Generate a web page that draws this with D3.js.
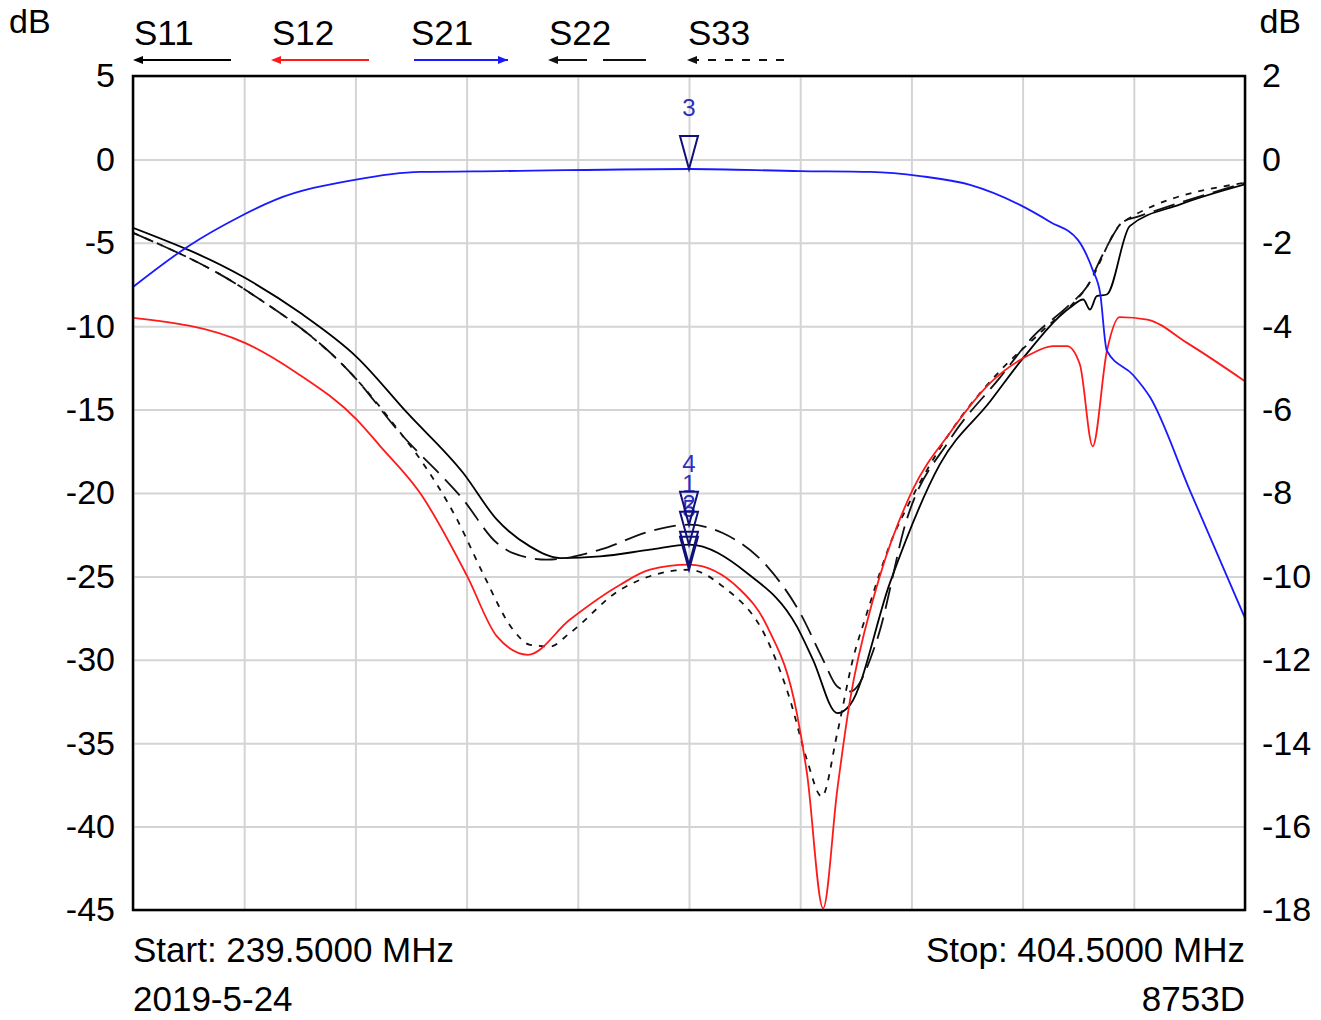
<!DOCTYPE html>
<html>
<head>
<meta charset="utf-8">
<script src="https://cdn.jsdelivr.net/npm/d3@7"></script>
<style>
  body { margin: 0; background: #fff; }
  text { font-family: "Liberation Sans", Arial, sans-serif; fill: #000; }
  .grid line { stroke: #d4d4d4; stroke-width: 2; }
  .grid path { display: none; }
  .ticks path, .ticks line { display: none; }
</style>
</head>
<body>
<div id="chart"></div>
<script>
// sweep, MHz
var startFreq = 239.5,
    stopFreq = 404.5;

var leftTicks = [5, 0, -5, -10, -15, -20, -25, -30, -35, -40, -45];
var rightTicks = [2, 0, -2, -4, -6, -8, -10, -12, -14, -16, -18];

// [MHz, dB]
var s11 = [[239.5,-4.1],[256.1,-7.1],[264.3,-9.2],[272.7,-11.85],[280.2,-15.2],[288.5,-18.8],
  [293.5,-21.6],[298.4,-23.2],[302.9,-23.9],[308.8,-23.8],[316.2,-23.4],[322.0,-23.1],
  [330.6,-24.8],[338.0,-28.0],[340.4,-30.0],[344.0,-33.2],[345.9,-32.7],[351.8,-25.4],
  [359.2,-18.3],[366.7,-14.5],[371.6,-11.9],[378.5,-8.9],[380.5,-8.4],[381.5,-9.0],
  [382.5,-8.2],[384.0,-8.1],[387.4,-4.0],[394.9,-2.7],[404.5,-1.5]];

var s12 = [[239.5,-9.5],[256.1,-11.0],[263.8,-12.8],[272.7,-15.6],[276.2,-17.2],[282.1,-20.0],
  [289.1,-25.0],[293.5,-28.6],[298.1,-29.7],[304.3,-27.6],[311.8,-25.5],[316.2,-24.6],
  [322.0,-24.3],[329.6,-25.8],[333.6,-28.0],[338.0,-33.2],[339.5,-36.8],[341.9,-44.9],
  [344.0,-37.8],[345.9,-32.4],[349.3,-26.4],[350.3,-25.0],[355.2,-19.8],[360.7,-16.4],
  [366.7,-13.4],[372.6,-11.7],[376.0,-11.2],[378.1,-11.2],[380.0,-12.3],[381.9,-17.2],
  [384.0,-11.5],[385.9,-9.45],[390.0,-9.6],[395.9,-11.0],[404.5,-13.3]];

// S21 is on the right-hand scale
var s21 = [[239.5,-3.06],[248.0,-2.05],[254.9,-1.41],[260.6,-0.97],[272.4,-0.49],[282.1,-0.30],
  [294.0,-0.28],[322.0,-0.23],[338.5,-0.28],[348.9,-0.30],[356.3,-0.40],[363.7,-0.61],
  [371.1,-1.09],[375.6,-1.50],[379.7,-1.93],[381.9,-2.65],[383.0,-3.20],[384.0,-4.59],
  [387.9,-5.17],[390.4,-5.70],[396.3,-7.93],[404.5,-11.0]];

var s22 = [[239.5,-4.4],[256.1,-7.8],[272.7,-13.2],[278.7,-16.2],[288.5,-20.4],[293.5,-23.0],
  [295.9,-23.6],[300.9,-24.0],[308.8,-23.4],[316.2,-22.3],[322.0,-21.9],[327.0,-22.4],
  [333.6,-24.4],[338.5,-27.2],[341.9,-30.0],[344.0,-31.6],[345.9,-31.9],[349.9,-28.8],
  [354.3,-21.6],[360.7,-16.8],[368.1,-13.1],[373.1,-10.6],[378.5,-8.7],[381.1,-7.6],
  [383.4,-5.7],[386.4,-3.75],[388.5,-3.45],[404.5,-1.4]];

var s33 = [[239.5,-4.4],[256.1,-7.8],[272.7,-13.2],[279.0,-16.3],[282.5,-18.2],[287.6,-21.6],
  [291.4,-24.8],[295.9,-28.2],[298.4,-29.1],[301.4,-29.2],[304.3,-28.4],[311.8,-25.8],
  [322.0,-24.6],[327.0,-25.6],[333.6,-28.8],[337.0,-32.4],[339.5,-36.0],[341.7,-38.2],
  [344.0,-34.4],[346.3,-30.0],[348.4,-27.2],[352.3,-22.6],[354.3,-20.9],[360.7,-16.4],
  [368.1,-12.7],[374.1,-10.4],[381.1,-7.6],[386.4,-3.75],[404.5,-1.4]];

var legendNames = ["S11", "S12", "S21", "S22", "S33"];
var markerFreq = 322.0;

var width = 1321, height = 1020,
    plotLeft = 133, plotRight = 1245, plotTop = 76, plotBottom = 910;

var svg = d3.select("#chart").append("svg")
    .attr("width", width)
    .attr("height", height);

var x = d3.scaleLinear().domain([startFreq, stopFreq]).range([plotLeft, plotRight]);
var yL = d3.scaleLinear().domain([-45, 5]).range([plotBottom, plotTop]);
var yR = d3.scaleLinear().domain([-18, 2]).range([plotBottom, plotTop]);

// grid
var xGrid = d3.range(11).map(function(i) { return startFreq + i * (stopFreq - startFreq) / 10; });

svg.append("g")
    .attr("class", "grid")
    .attr("transform", "translate(0," + plotBottom + ")")
    .call(d3.axisBottom(x).tickValues(xGrid).tickSize(-(plotBottom - plotTop)).tickFormat(""));

svg.append("g")
    .attr("class", "grid")
    .attr("transform", "translate(" + plotLeft + ",0)")
    .call(d3.axisLeft(yL).tickValues(leftTicks).tickSize(-(plotRight - plotLeft)).tickFormat(""));

// tick labels
svg.append("g")
    .attr("class", "ticks")
    .attr("transform", "translate(" + plotLeft + ",0)")
    .call(d3.axisLeft(yL).tickValues(leftTicks).tickSize(0).tickPadding(18));

svg.append("g")
    .attr("class", "ticks")
    .attr("transform", "translate(" + plotRight + ",0)")
    .call(d3.axisRight(yR).tickValues(rightTicks).tickSize(0).tickPadding(17));

// plain hyphen like the instrument print
svg.selectAll(".ticks text")
    .text(function(d) { return String(d); })
    .style("font-size", "34px")
    .style("font-family", "'Liberation Sans', Arial, sans-serif")
    .attr("fill", "#000");

svg.append("defs").append("clipPath")
    .attr("id", "plotclip")
    .append("rect")
    .attr("x", plotLeft).attr("y", plotTop - 1)
    .attr("width", plotRight - plotLeft).attr("height", plotBottom - plotTop + 2);

var traces = [
  {data: s11, y: yL, color: "#000", dash: null},
  {data: s22, y: yL, color: "#111", dash: "22,9"},
  {data: s33, y: yL, color: "#111", dash: "6,7"},
  {data: s12, y: yL, color: "#ff1a1a", dash: null},
  {data: s21, y: yR, color: "#1a1aff", dash: null}
];

var plot = svg.append("g").attr("clip-path", "url(#plotclip)");

traces.forEach(function(t) {
  var line = d3.line()
      .curve(d3.curveMonotoneX)
      .x(function(d) { return x(d[0]); })
      .y(function(d) { return t.y(d[1]); });
  plot.append("path")
      .datum(t.data)
      .attr("d", line)
      .attr("fill", "none")
      .attr("stroke", t.color)
      .attr("stroke-width", 1.8)
      .attr("stroke-dasharray", t.dash);
});

// border
svg.append("rect")
    .attr("x", plotLeft).attr("y", plotTop)
    .attr("width", plotRight - plotLeft).attr("height", plotBottom - plotTop)
    .attr("fill", "none")
    .attr("stroke", "#000")
    .attr("stroke-width", 2.5);

// markers
function valueAt(data, f) {
  var i = d3.bisector(function(d) { return d[0]; }).left(data, f);
  if (i <= 0) return data[0][1];
  if (i >= data.length) return data[data.length - 1][1];
  var a = data[i - 1], b = data[i];
  return a[1] + (b[1] - a[1]) * (f - a[0]) / (b[0] - a[0]);
}

var markers = [
  {label: "3", data: s21, y: yR},
  {label: "4", data: s22, y: yL},
  {label: "1", data: s11, y: yL},
  {label: "2", data: s12, y: yL},
  {label: "5", data: s33, y: yL}
];

var mk = svg.append("g");
markers.forEach(function(m) {
  var mx = x(markerFreq), my = m.y(valueAt(m.data, markerFreq));
  mk.append("text")
      .attr("x", mx)
      .attr("y", my - 53)
      .attr("text-anchor", "middle")
      .style("font-size", "24px")
      .style("fill", "#2d2dbf")
      .text(m.label);
});
markers.forEach(function(m) {
  var mx = x(markerFreq), my = m.y(valueAt(m.data, markerFreq));
  mk.append("path")
      .attr("d", "M" + mx + "," + my + "L" + (mx - 9) + "," + (my - 33) + "L" + (mx + 9) + "," + (my - 33) + "Z")
      .attr("fill", "none")
      .attr("stroke", "#10107a")
      .attr("stroke-width", 2);
});

// axis unit labels
svg.append("text").attr("x", 9).attr("y", 33).style("font-size", "34px").text("dB");
svg.append("text").attr("x", 1301).attr("y", 33).attr("text-anchor", "end").style("font-size", "34px").text("dB");

// legend
var legendX = [133, 271, 410, 548, 687];
var legend = svg.append("g").attr("class", "legend");
var legendStyle = [
  {color: "#000", dash: null, dir: -1},
  {color: "#ff1a1a", dash: null, dir: -1},
  {color: "#1a1aff", dash: null, dir: 1},
  {color: "#111", dash: "35,16,60", dir: -1},
  {color: "#111", dash: "8,9", dir: -1}
];

legendNames.forEach(function(name, i) {
  var lx = legendX[i], st = legendStyle[i], ly = 60, len = 98;
  legend.append("text")
      .attr("x", lx + 1)
      .attr("y", 45)
      .style("font-size", "35px")
      .text(name);
  legend.append("line")
      .attr("x1", lx + 4).attr("x2", lx + len)
      .attr("y1", ly).attr("y2", ly)
      .attr("stroke", st.color)
      .attr("stroke-width", 2)
      .attr("stroke-dasharray", st.dash);
  var tip = st.dir < 0 ? lx : lx + len;
  legend.append("path")
      .attr("d", "M" + tip + "," + ly + "L" + (tip - st.dir * 10) + "," + (ly - 4) + "L" + (tip - st.dir * 10) + "," + (ly + 4) + "Z")
      .attr("fill", st.color);
});

// footer
svg.append("text").attr("x", plotLeft).attr("y", 962).style("font-size", "35px").text("Start: 239.5000 MHz");
svg.append("text").attr("x", plotRight).attr("y", 962).attr("text-anchor", "end").style("font-size", "35px").text("Stop: 404.5000 MHz");
svg.append("text").attr("x", plotLeft).attr("y", 1011).style("font-size", "35px").text("2019-5-24");
svg.append("text").attr("x", plotRight).attr("y", 1011).attr("text-anchor", "end").style("font-size", "35px").text("8753D");
</script>
</body>
</html>
